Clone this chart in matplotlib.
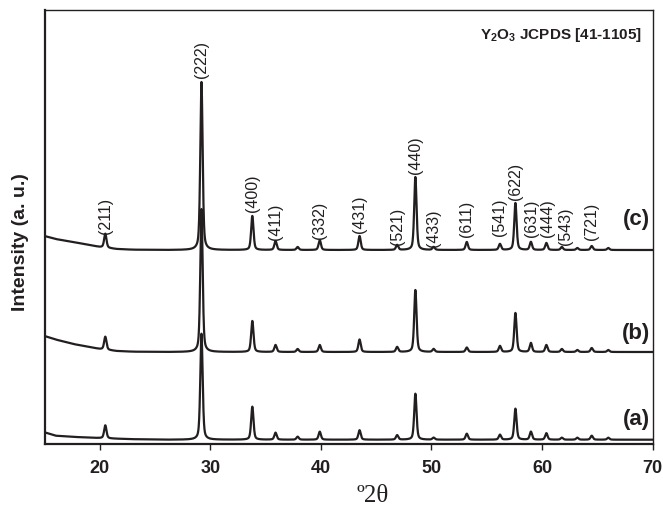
import numpy as np
import matplotlib
matplotlib.use("Agg")
import matplotlib.pyplot as plt

plt.rcParams['font.family'] = ['Liberation Sans', 'DejaVu Sans']
plt.rcParams['mathtext.fontset'] = 'custom'
plt.rcParams['mathtext.rm'] = 'Liberation Sans'
plt.rcParams['mathtext.bf'] = 'Liberation Sans:bold'

# ---- data ----
peak_pos = [20.5, 29.2, 33.8, 35.9, 37.9, 39.9, 43.5, 46.9, 48.55, 50.2,
            53.2, 56.2, 57.6, 59.0, 60.4, 61.8, 63.2, 64.5, 66.0]
peak_c = [14, 168, 34, 9, 3, 10, 14, 5, 73, 3, 8, 6, 47, 8, 7, 3, 2, 4, 2]
peak_b = [13, 143, 31, 7, 3, 7, 12.5, 5, 62, 3, 4.5, 6, 39, 9, 7, 3, 2, 4, 2]
peak_a = [13, 106, 33, 7, 3, 8, 9.5, 4.5, 46, 2, 6, 5, 31, 8, 6.5, 2, 2, 4, 2]

base_c, base_b, base_a = 194, 92, 4.3
bg_x = [15, 16, 17.6, 20, 21.5, 23, 26, 70]
bg_c = [14, 11, 8, 3, 1, 0.3, 0, 0]
bg_b = [16, 12.5, 8, 3, 1, 0.3, 0, 0]
bg_a = [7.4, 4, 2.8, 1.6, 1, 0.5, 0, 0]

hkl_labels = ['(211)', '(222)', '(400)', '(411)', '(332)', '(431)', '(521)', '(440)',
              '(433)', '(611)', '(541)', '(622)', '(631)', '(444)', '(543)', '(721)']
label_x = [20.54, 29.2, 33.84, 35.9, 39.9, 43.5, 46.9, 48.55,
           50.2, 53.2, 56.2, 57.6, 59.09, 60.5, 62.13, 64.5]
label_y = [211, 367, 233, 205, 206, 212, 200, 271,
           198, 208, 209, 245, 208, 208, 200, 205]

sample_labels = ['(c)', '(b)', '(a)']
sample_label_y = [226, 111, 25.5]

xticks = [20, 30, 40, 50, 60, 70]

# ---- build patterns ----
tt = np.linspace(15, 70, 5501)
fwhm = 0.25


def pattern(heights, base, bg):
    y = base + np.interp(tt, bg_x, bg)
    for p, h in zip(peak_pos, heights):
        g = np.exp(-4 * np.log(2) * ((tt - p) / fwhm) ** 2)
        l = 1.0 / (1 + 4 * ((tt - p) / fwhm) ** 2)
        y = y + h * (0.55 * g + 0.45 * l)
    return y


ink = '#231f20'
fig = plt.figure(figsize=(6.63, 5.06), dpi=100)
ax = fig.add_axes([44.5 / 663, 61 / 506, 608 / 663, 434 / 506])

for h, b, bg in [(peak_a, base_a, bg_a), (peak_b, base_b, bg_b), (peak_c, base_c, bg_c)]:
    ax.plot(tt, pattern(h, b, bg), color=ink, lw=1.6)

ax.set_xlim(15, 70)
ax.set_ylim(0, 434)
ax.set_yticks([])
ax.set_xticks(xticks)
ax.set_xticklabels([str(v) for v in xticks], fontsize=13, fontweight='bold', color=ink)
ax.tick_params(axis='x', direction='out', length=4, width=1, pad=7, color=ink)
for s in ['left', 'bottom']:
    ax.spines[s].set_linewidth(1.6)
for s in ['top', 'right']:
    ax.spines[s].set_linewidth(1.0)
for s in ax.spines.values():
    s.set_color(ink)

for t, x, y in zip(hkl_labels, label_x, label_y):
    ax.text(x, y, t, rotation=90, ha='center', va='bottom', fontsize=11.5, color=ink)

for t, y in zip(sample_labels, sample_label_y):
    ax.text(69.8, y, t, ha='right', va='center', fontsize=16, fontweight='bold', color=ink)

ax.text(0.983, 0.966, r'Y$_\mathbf{2}$O$_\mathbf{3}$ JCPDS [41-1105]', transform=ax.transAxes,
        ha='right', va='top', fontsize=11, fontweight='bold', color=ink)

ax.set_ylabel('Intensity (a. u.)', fontsize=14, fontweight='bold', color=ink, va='center')
ax.yaxis.set_label_coords(-0.039, 0.467)

fig.text(373 / 663, 0.008, 'º2θ', ha='center', va='baseline', fontsize=18,
         family=['Liberation Serif', 'DejaVu Serif'], color=ink)

fig.savefig('out.png', dpi=100)
